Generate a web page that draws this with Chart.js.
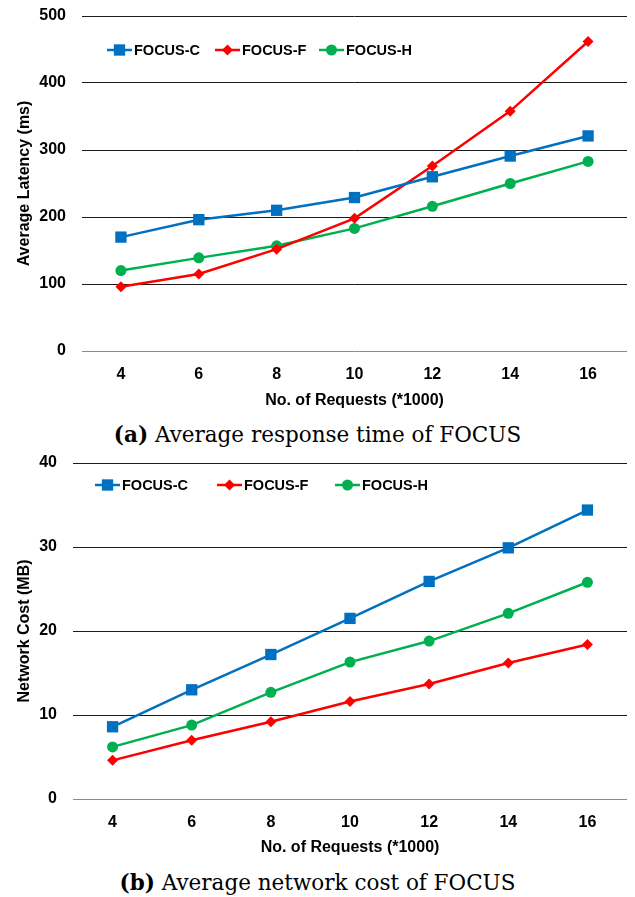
<!DOCTYPE html>
<html>
<head>
<meta charset="utf-8">
<script src="https://cdn.jsdelivr.net/npm/chart.js@4/dist/chart.umd.min.js"></script>
<style>
  html, body { margin: 0; padding: 0; background: #fff; }
  body { width: 635px; height: 897px; position: relative; overflow: hidden; }
  .wrap { position: absolute; left: 0; width: 635px; height: 415px; }
  .cap { position: absolute; left: 0; width: 635px; text-align: center;
         font-family: "DejaVu Serif", "Liberation Serif", serif; font-size: 21.5px; color: #000;
         line-height: 24px; }
  .cap b { font-weight: bold; }
</style>
</head>
<body>
<div class="wrap" style="top:0"><canvas id="c1" width="635" height="415"></canvas></div>
<div class="cap" style="top:423px"><b>(a)</b> Average response time of FOCUS</div>
<div class="wrap" style="top:447px"><canvas id="c2" width="635" height="415"></canvas></div>
<div class="cap" style="top:871px"><b>(b)</b> Average network cost of FOCUS</div>
<script>
// ---- data ----
const categories = ['4', '6', '8', '10', '12', '14', '16'];
const seriesNames = ['FOCUS-C', 'FOCUS-F', 'FOCUS-H'];

const latencyC = [170, 196, 210, 229, 260, 291, 321];
const latencyF = [96, 115, 152, 198, 276, 358, 462];
const latencyH = [120, 139, 157, 183, 216, 250, 283];

const costC = [8.6, 13.0, 17.2, 21.5, 25.9, 29.9, 34.4];
const costF = [4.6, 7.0, 9.2, 11.6, 13.7, 16.2, 18.4];
const costH = [6.2, 8.8, 12.7, 16.3, 18.8, 22.1, 25.8];

const latencyTicks = { min: 0, max: 500, step: 100 };
const costTicks = { min: 0, max: 40, step: 10 };

// ---- styles ----
const COLORS = ['#0070C0', '#FF0000', '#00B050'];
const STYLES = ['rect', 'rectRot', 'circle'];
const RADII = [8, 5.5, 5.5];
const FONT = '"Liberation Sans", Arial, sans-serif';

function makeDatasets(arrs) {
  return arrs.map((d, i) => ({
    label: seriesNames[i],
    data: d,
    borderColor: COLORS[i],
    backgroundColor: COLORS[i],
    borderWidth: 2.5,
    pointStyle: STYLES[i],
    pointRadius: RADII[i],
    pointBorderWidth: 0,
    pointBackgroundColor: COLORS[i],
    tension: 0
  }));
}

const customLegend = {
  id: 'customLegend',
  afterDatasetsDraw(chart, args, opts) {
    const ctx = chart.ctx;
    ctx.save();
    chart.data.datasets.forEach((ds, i) => {
      const x0 = opts.xs[i], y = opts.y;
      ctx.strokeStyle = ds.borderColor;
      ctx.lineWidth = 2.5;
      ctx.beginPath();
      ctx.moveTo(x0, y);
      ctx.lineTo(x0 + 25, y);
      ctx.stroke();
      ctx.fillStyle = ds.backgroundColor;
      ctx.strokeStyle = ds.borderColor;
      Chart.helpers.drawPoint(ctx, { pointStyle: ds.pointStyle, radius: ds.pointRadius, borderWidth: 0, rotation: 0 }, x0 + 12.5, y);
      ctx.fillStyle = '#000';
      ctx.font = 'bold 14.5px ' + FONT;
      ctx.textBaseline = 'middle';
      ctx.textAlign = 'left';
      ctx.fillText(ds.label, x0 + 27, y + 1);
    });
    ctx.restore();
  }
};

function makeChart(id, arrs, tk, yTitle, yWidth, xHeight, legendXs, legendY) {
  return new Chart(document.getElementById(id), {
    type: 'line',
    data: { labels: categories, datasets: makeDatasets(arrs) },
    options: {
      responsive: false,
      animation: false,
      layout: { padding: { top: 16, right: 1, bottom: 0, left: 0 } },
      plugins: {
        legend: { display: false },
        tooltip: { enabled: false },
        customLegend: { xs: legendXs, y: legendY }
      },
      scales: {
        x: {
          offset: true,
          grid: { display: false, drawTicks: false },
          border: { display: false },
          ticks: { color: '#000', font: { family: FONT, size: 16, weight: 'bold' }, padding: 14, maxRotation: 0 },
          title: { display: true, text: 'No. of Requests (*1000)', color: '#000',
                   font: { family: FONT, size: 16, weight: 'bold' }, padding: { top: 0, bottom: 5 } },
          afterFit(s) { s.height = xHeight; s.paddingLeft = 0; s.paddingRight = 0; }
        },
        y: {
          min: tk.min, max: tk.max,
          grid: {
            drawTicks: false,
            color: c => c.tick && c.tick.value === 0 ? '#8a8a8a' : '#1a1a1a',
            lineWidth: 1
          },
          border: { display: false },
          ticks: { stepSize: tk.step, color: '#000', font: { family: FONT, size: 16, weight: 'bold' }, padding: 16 },
          title: { display: true, text: yTitle, color: '#000',
                   font: { family: FONT, size: 16, weight: 'bold' }, padding: { top: 15, bottom: 0 } },
          afterFit(s) { s.width = yWidth; s.paddingTop = 0; s.paddingBottom = 0; }
        }
      }
    },
    plugins: [customLegend]
  });
}

makeChart('c1', [latencyC, latencyF, latencyH], latencyTicks, 'Average Latency (ms)', 82, 64, [107, 215, 319], 50);
makeChart('c2', [costC, costF, costH], costTicks, 'Network Cost (MB)', 73, 63, [95, 217, 335], 38);
</script>
</body>
</html>
